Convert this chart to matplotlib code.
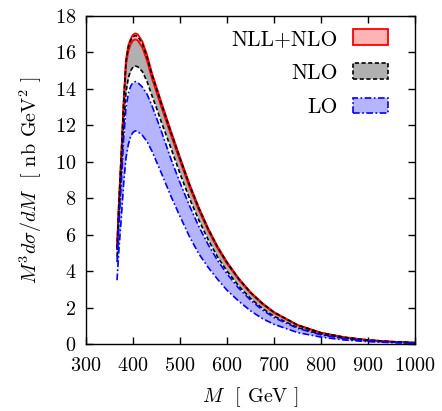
import numpy as np
import matplotlib.pyplot as plt
from matplotlib.patches import Patch

# -----------------------------
# Data (M in GeV, M^3 dsigma/dM in nb GeV^2)
# -----------------------------
M = [366, 370, 375, 380, 385, 390, 395, 400, 405, 410, 420, 430, 440, 450, 460,
     480, 500, 520, 540, 560, 580, 600, 625, 650, 675, 700, 750, 800, 850, 900,
     950, 1000]

nll_hi = [5.3, 7.8, 10.4, 13.3, 15.6, 16.4, 16.75, 16.98, 17.05, 17.0, 16.6, 15.85,
          14.9, 14.1, 13.3, 11.75, 10.25, 8.8, 7.5, 6.35, 5.35, 4.5, 3.6, 2.85, 2.25,
          1.75, 1.05, 0.62, 0.37, 0.22, 0.13, 0.07]
nll_lo = [5.2, 7.65, 10.2, 13.05, 15.3, 16.05, 16.45, 16.65, 16.72, 16.66, 16.27, 15.53,
          14.6, 13.82, 13.03, 11.52, 10.05, 8.62, 7.35, 6.22, 5.24, 4.41, 3.53, 2.79, 2.2,
          1.71, 1.03, 0.61, 0.36, 0.215, 0.127, 0.069]

nlo_hi = [5.25, 7.75, 10.33, 13.22, 15.5, 16.3, 16.65, 16.87, 16.93, 16.88, 16.48, 15.74,
          14.8, 14.0, 13.2, 11.67, 10.18, 8.74, 7.45, 6.3, 5.31, 4.47, 3.57, 2.83, 2.23,
          1.74, 1.04, 0.615, 0.367, 0.218, 0.129, 0.069]
nlo_lo = [4.8, 7.0, 9.3, 11.9, 13.8, 14.6, 15.0, 15.2, 15.25, 15.22, 14.95, 14.4,
          13.65, 12.95, 12.2, 10.8, 9.35, 8.0, 6.8, 5.72, 4.77, 4.0, 3.18, 2.5, 1.96,
          1.52, 0.9, 0.53, 0.31, 0.185, 0.108, 0.058]

lo_hi = [4.5, 6.6, 8.8, 11.2, 12.95, 13.75, 14.15, 14.35, 14.4, 14.35, 14.1, 13.7,
         13.1, 12.4, 11.7, 10.2, 8.85, 7.6, 6.45, 5.45, 4.58, 3.85, 3.06, 2.41, 1.88,
         1.45, 0.86, 0.5, 0.29, 0.17, 0.1, 0.055]
lo_lo = [3.5, 5.2, 6.9, 8.8, 10.2, 10.95, 11.4, 11.62, 11.7, 11.65, 11.45, 11.1,
         10.6, 10.0, 9.4, 8.15, 7.0, 5.9, 4.95, 4.2, 3.55, 2.95, 2.35, 1.82, 1.4,
         1.08, 0.63, 0.38, 0.22, 0.13, 0.075, 0.04]

labels = ['NLL+NLO', 'NLO', 'LO']
x_ticks = [300, 400, 500, 600, 700, 800, 900, 1000]
y_ticks = [0, 2, 4, 6, 8, 10, 12, 14, 16, 18]

# -----------------------------
# Style (gnuplot / LaTeX look)
# -----------------------------
plt.rcParams['font.family'] = 'serif'
plt.rcParams['font.serif'] = ['cmr10']
plt.rcParams['mathtext.fontset'] = 'cm'
plt.rcParams['axes.formatter.use_mathtext'] = True
plt.rcParams['font.size'] = 14.5

pink, grey, lblue = '#ffb4b4', '#b0b0b0', '#b4b4ff'

fig = plt.figure(figsize=(4.42, 4.11), dpi=100)
ax = fig.add_axes([0.1946, 0.163, 0.7444, 0.798])

# bands
ax.fill_between(M, nlo_lo, nlo_hi, color=grey, lw=0)
ax.fill_between(M, lo_lo, lo_hi, color=lblue, lw=0)
ax.fill_between(M, nll_lo, nll_hi, color=pink, lw=0)

# band edges
for y in (nll_lo, nll_hi):
    ax.plot(M, y, color='red', lw=1.3)
for y in (nlo_lo, nlo_hi):
    ax.plot(M, y, color='black', lw=1.2, ls=(0, (2.5, 1.5)))
for y in (lo_lo, lo_hi):
    ax.plot(M, y, color='blue', lw=1.2, ls=(0, (4, 1.5, 1, 1.5)))

ax.set_xlim(300, 1000)
ax.set_ylim(0, 18)
ax.set_xticks(x_ticks)
ax.set_yticks(y_ticks)
ax.tick_params(direction='in', length=5, width=1, top=True, right=True)
ax.tick_params(axis='x', pad=9)
ax.tick_params(axis='y', pad=7)
for s in ax.spines.values():
    s.set_linewidth(1.0)

ax.set_xlabel(r'$M$  [ GeV ]', labelpad=8)
ax.set_ylabel(r'$M^3 d\sigma/dM$  [ nb GeV$^2$ ]', labelpad=8)

# legend: label on the left, sample box on the right
handles = [
    Patch(facecolor=pink, edgecolor='red', lw=1.3),
    Patch(facecolor=grey, edgecolor='black', lw=1.2, ls=(0, (2.5, 1.5))),
    Patch(facecolor=lblue, edgecolor='blue', lw=1.2, ls=(0, (4, 1.5, 1, 1.5))),
]
ax.legend(handles, labels, loc='upper right', bbox_to_anchor=(0.918, 0.96),
          frameon=False, markerfirst=False, alignment='right', borderpad=0,
          borderaxespad=0, handlelength=1.65, handleheight=0.75,
          handletextpad=0.7, labelspacing=0.68, fontsize=15.5)

fig.savefig('out.png', dpi=100)
